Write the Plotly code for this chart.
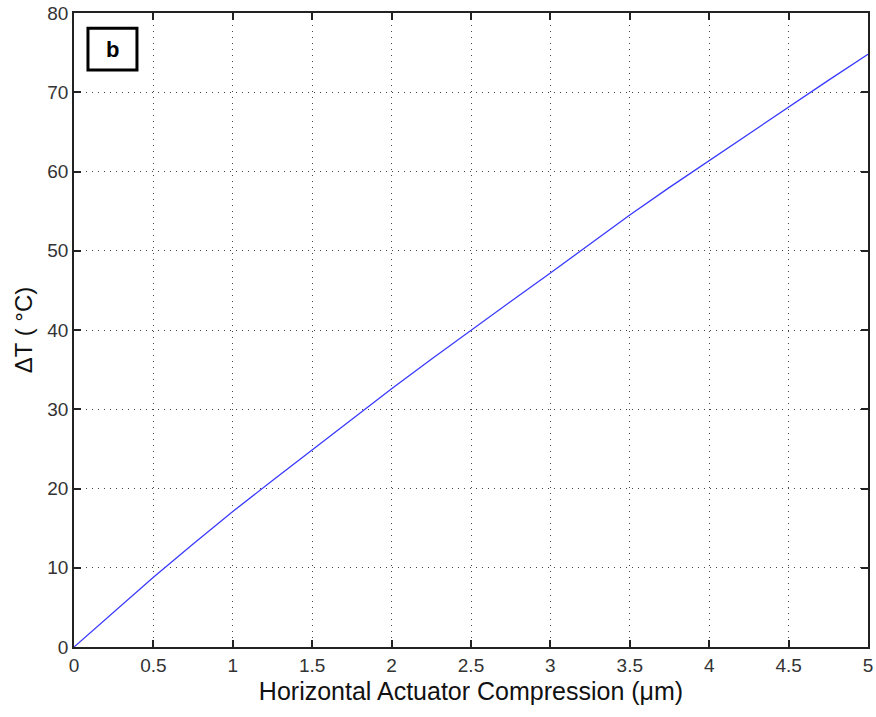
import plotly.graph_objects as go

compression_um = [0, 0.25, 0.5, 0.75, 1.0, 1.25, 1.5, 1.75, 2.0, 2.25, 2.5,
                  2.75, 3.0, 3.25, 3.5, 3.75, 4.0, 4.25, 4.5, 4.75, 5.0]
delta_t_c = [0, 4.4, 8.8, 13.0, 17.1, 21.0, 24.9, 28.8, 32.6, 36.3, 40.0,
             43.6, 47.2, 50.9, 54.5, 58.0, 61.4, 64.8, 68.1, 71.5, 74.8]

font_family = "Liberation Sans, Arial, sans-serif"

fig = go.Figure()
fig.add_trace(go.Scatter(x=compression_um, y=delta_t_c, mode="lines",
                         line=dict(color="#3a3aff", width=1.3), showlegend=False,
                         cliponaxis=False))

axis_common = dict(
    showline=True, linecolor="#222222", linewidth=1.5, mirror="ticks",
    ticks="inside", ticklen=7, tickcolor="#222222", tickwidth=1.5,
    showgrid=True, gridcolor="#444444", griddash="1px,5px", gridwidth=1.2,
    zeroline=False, automargin=False, ticklabeloverflow="allow",
    tickfont=dict(family=font_family, size=19, color="#333333"),
)

fig.update_xaxes(range=[0, 5], dtick=0.5, tick0=0,
                 title=dict(text="Horizontal Actuator Compression (μm)",
                            font=dict(family=font_family, size=25, color="#111111"),
                            standoff=8),
                 **axis_common)
fig.update_yaxes(range=[0, 80], dtick=10, tick0=0,
                 title=dict(text="ΔT ( °C)",
                            font=dict(family=font_family, size=24, color="#111111"),
                            standoff=8),
                 **axis_common)

fig.add_shape(type="rect", xref="paper", yref="paper",
              x0=0.0176, x1=0.0793, y0=0.910, y1=0.976,
              line=dict(color="black", width=3), fillcolor="white")
fig.add_annotation(xref="paper", yref="paper", x=0.0485, y=0.943,
                   xanchor="center", yanchor="middle",
                   text="<b>b</b>", showarrow=False,
                   font=dict(family=font_family, size=22, color="black"))

fig.update_layout(
    width=876, height=717,
    margin=dict(l=74, r=8, t=13, b=70),
    paper_bgcolor="white", plot_bgcolor="white",
)

fig.write_html("out.html",
               config={"displayModeBar": False},
               post_script="document.body.style.margin='0';"
                           "document.body.style.overflow='hidden';")
